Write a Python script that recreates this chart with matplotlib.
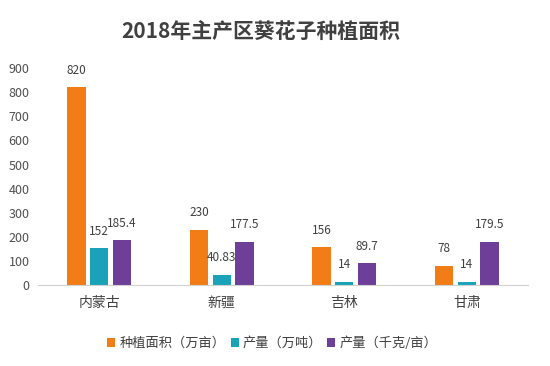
import numpy as np
import matplotlib.pyplot as plt

plt.rcParams['font.family'] = ['Noto Sans CJK SC', 'DejaVu Sans']

regions = ['内蒙古', '新疆', '吉林', '甘肃']
area = [820, 230, 156, 78]
output = [152, 40.83, 14, 14]
yield_per_mu = [185.4, 177.5, 89.7, 179.5]
area_labels = ['820', '230', '156', '78']
output_labels = ['152', '40.83', '14', '14']
yield_labels = ['185.4', '177.5', '89.7', '179.5']
series_names = ['种植面积（万亩）', '产量（万吨）', '产量（千克/亩）']
colors = ['#F27D16', '#1AA3B8', '#6E3F98']

fig = plt.figure(figsize=(5.5, 3.66), dpi=100)
ax = fig.add_axes([0.069, 0.221, 0.891, 0.593])

x = np.arange(len(regions))
w = 0.15
step = 0.185
series = [area, output, yield_per_mu]
labels = [area_labels, output_labels, yield_labels]
for i, (vals, labs) in enumerate(zip(series, labels)):
    pos = x + (i - 1) * step
    ax.bar(pos, vals, width=w, color=colors[i], label=series_names[i], zorder=2)
    for p, v, t in zip(pos, vals, labs):
        ax.text(p, v + 45, t, ha='center', va='bottom', fontsize=8.5, color='#404040')

ax.set_xlim(-0.5, len(regions) - 0.5)
ax.set_ylim(0, 900)
ax.set_yticks(range(0, 901, 100))
ax.set_xticks(x)
ax.set_xticklabels(regions, fontsize=10, color='#404040')
ax.tick_params(axis='y', labelsize=9, colors='#505050', length=0, pad=6)
ax.tick_params(axis='x', length=0, pad=8)
for s in ['top', 'right', 'left']:
    ax.spines[s].set_visible(False)
ax.spines['bottom'].set_color('#D0D0D0')

fig.suptitle('2018年主产区葵花子种植面积', x=0.475, y=0.94, fontsize=15, fontweight='bold', color='#404040')
fig.legend(loc='center', bbox_to_anchor=(0.495, 0.062), ncol=3, frameon=False,
           fontsize=9.5, handlelength=0.6, handleheight=0.6, handletextpad=0.3,
           columnspacing=0.4, labelcolor='#404040')

fig.savefig('out.png', dpi=100)
